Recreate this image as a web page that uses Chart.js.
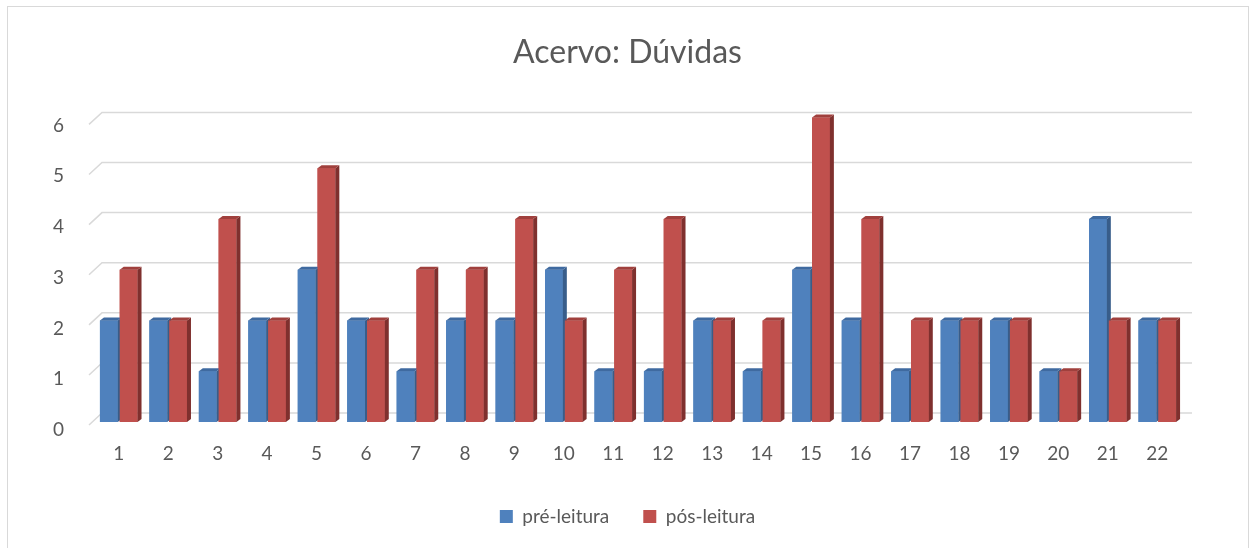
<!DOCTYPE html>
<html>
<head>
<meta charset="utf-8">
<script src="https://cdn.jsdelivr.net/npm/chart.js@4"></script>
<style>
  html, body { margin: 0; padding: 0; background: #fff; }
  #wrap { position: relative; width: 1255px; height: 548px; overflow: hidden; }
  #frame { position: absolute; left: 7px; top: 6px; width: 1242px; height: 560px; border: 1px solid #d9d9d9; box-sizing: border-box; }
  canvas { position: absolute; left: 0; top: 0; }
</style>
</head>
<body>
<div id="wrap">
  <div id="frame"></div>
  <canvas id="chart" width="1255" height="548"></canvas>
</div>
<script>
const labels = ['1','2','3','4','5','6','7','8','9','10','11','12','13','14','15','16','17','18','19','20','21','22'];
const preLeitura = [2, 2, 1, 2, 3, 2, 1, 2, 2, 3, 1, 1, 2, 1, 3, 2, 1, 2, 2, 1, 4, 2];
const posLeitura = [3, 2, 4, 2, 5, 2, 3, 3, 4, 2, 3, 4, 2, 2, 6, 4, 2, 2, 2, 1, 2, 2];

const faceColors = [
    { front: '#4f81bd', side: '#385d8a', top: '#3f6aa0' },
    { front: '#c0504d', side: '#7f302e', top: '#a0403d' }
];
const textColor = '#595959';
const fontFamily = 'Lato, "Open Sans", sans-serif';

// back-wall gridlines with the little slanted floor edge on the left
const wallGrid = {
    id: 'wallGrid',
    beforeDatasetsDraw(chart) {
        const { ctx, chartArea, scales } = chart;
        const y = scales.y;
        ctx.save();
        ctx.strokeStyle = '#d9d9d9';
        ctx.lineWidth = 1.5;
        y.ticks.forEach(t => {
            const py = y.getPixelForValue(t.value);
            const back = chartArea.top + (py - chartArea.top) * 0.987 - 5;
            ctx.beginPath();
            ctx.moveTo(chartArea.left - 5, back + 12);
            ctx.lineTo(chartArea.left + 8, back);
            ctx.lineTo(chartArea.right + 10, back);
            ctx.stroke();
        });
        ctx.restore();
    }
};

// fake 3D: redraw each bar with a side and a top face
const bars3d = {
    id: 'bars3d',
    afterDatasetsDraw(chart) {
        const { ctx } = chart;
        const dx = 4, dy = 3;
        const metas = chart.data.datasets.map((d, i) => chart.getDatasetMeta(i));
        ctx.save();
        for (let i = 0; i < labels.length; i++) {
            metas.forEach((meta, di) => {
                const el = meta.data[i];
                const c = faceColors[di];
                const left = el.x - el.width / 2;
                const right = el.x + el.width / 2;
                const top = el.y;
                const base = el.base;
                ctx.fillStyle = c.front;
                ctx.fillRect(left, top, right - left, base - top);
                ctx.fillStyle = c.side;
                ctx.beginPath();
                ctx.moveTo(right, top);
                ctx.lineTo(right + dx, top - dy);
                ctx.lineTo(right + dx, base - dy);
                ctx.lineTo(right, base);
                ctx.closePath();
                ctx.fill();
                ctx.fillStyle = c.top;
                ctx.beginPath();
                ctx.moveTo(left, top);
                ctx.lineTo(left + dx, top - dy);
                ctx.lineTo(right + dx, top - dy);
                ctx.lineTo(right, top);
                ctx.closePath();
                ctx.fill();
            });
        }
        ctx.restore();
    }
};

new Chart(document.getElementById('chart').getContext('2d'), {
    type: 'bar',
    data: {
        labels: labels,
        datasets: [
            { label: 'pré-leitura', data: preLeitura, backgroundColor: faceColors[0].front },
            { label: 'pós-leitura', data: posLeitura, backgroundColor: faceColors[1].front }
        ]
    },
    options: {
        responsive: false,
        animation: false,
        layout: { padding: { top: 20, bottom: 12, right: 0 } },
        scales: {
            x: {
                grid: { display: false },
                border: { display: false },
                categoryPercentage: 0.6,
                barPercentage: 1.0,
                afterFit: s => { s.height = 51; },
                ticks: { color: textColor, font: { family: fontFamily, size: 19 }, padding: 12 }
            },
            y: {
                min: 0,
                max: 6,
                grid: { display: false },
                border: { display: false },
                afterFit: s => { s.width = 94; },
                ticks: { stepSize: 1, color: textColor, font: { family: fontFamily, size: 19 }, padding: 22, labelOffset: 8 }
            },
            yRight: {
                position: 'right',
                grid: { display: false },
                border: { display: false },
                ticks: { display: false },
                afterFit: s => { s.width = 73; }
            }
        },
        plugins: {
            title: {
                display: true,
                text: 'Acervo: Dúvidas',
                color: textColor,
                font: { family: fontFamily, size: 32, weight: 'normal' },
                padding: { top: 13, bottom: 46 }
            },
            legend: {
                position: 'bottom',
                labels: {
                    color: textColor,
                    font: { family: fontFamily, size: 19 },
                    boxWidth: 13,
                    boxHeight: 13,
                    padding: 34
                }
            },
            tooltip: { enabled: false }
        }
    },
    plugins: [wallGrid, bars3d]
});
</script>
</body>
</html>
